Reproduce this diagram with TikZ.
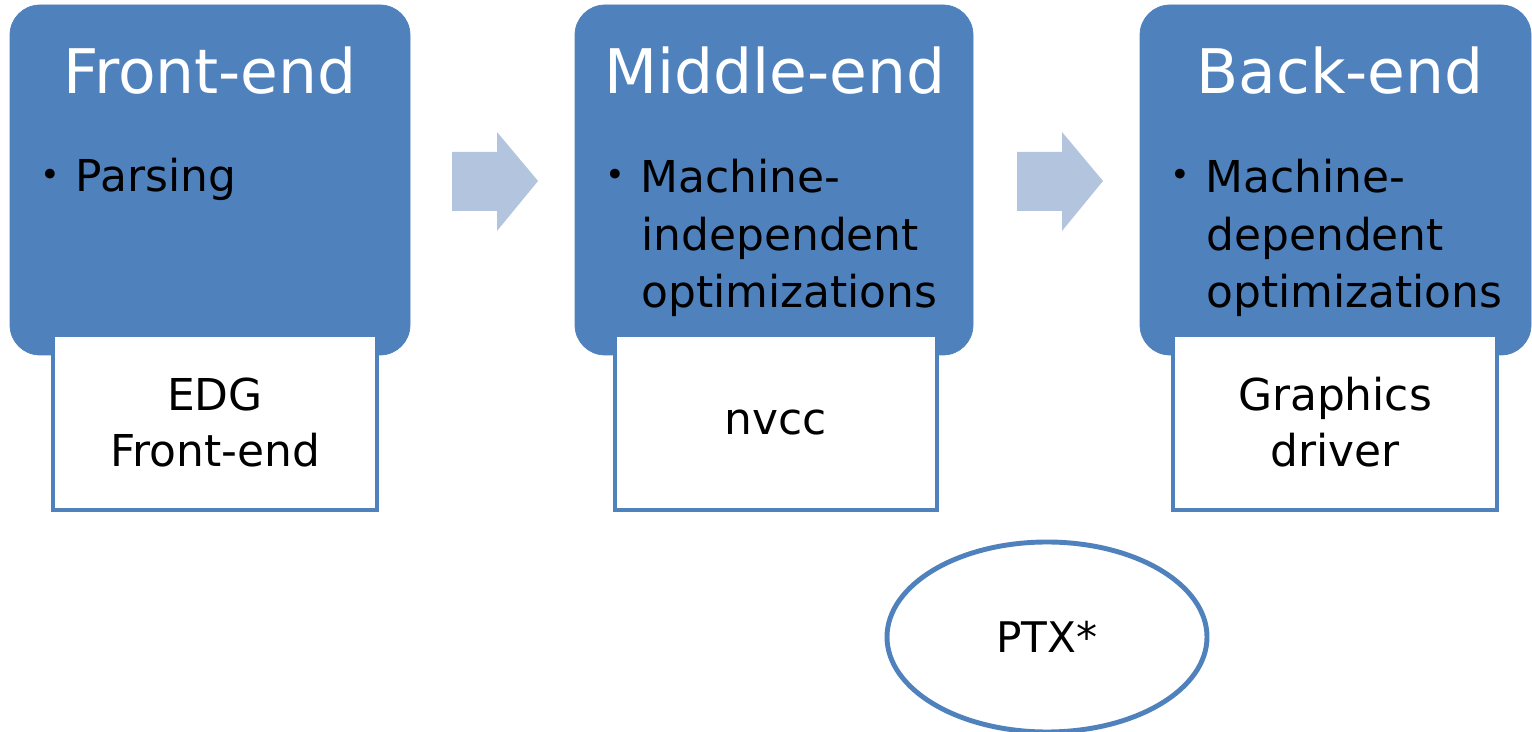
\documentclass[tikz,border=0pt]{standalone}
\usepackage{fontspec}
\setmainfont{DejaVu Sans}
\usetikzlibrary{shapes.geometric}
\definecolor{boxblue}{RGB}{79,129,189}
\definecolor{arrowblue}{RGB}{179,196,222}
\newcommand{\bdot}{\raisebox{3pt}{\fontsize{19}{19}\selectfont •}\hspace{9pt}}
\tikzset{
  stage/.style={fill=boxblue, draw=boxblue, rounded corners=17pt},
  sub/.style={fill=white, draw=boxblue, line width=2pt},
  flow/.style={fill=arrowblue, draw=none},
  title/.style={text=white, font=\fontsize{35}{40}\selectfont, anchor=base},
  bul/.style={font=\fontsize{25}{33}\selectfont, anchor=base west, align=left, inner sep=0pt},
  subtext/.style={font=\fontsize{25}{32}\selectfont, align=center, inner sep=0pt},
}
\begin{document}
\begin{tikzpicture}[x=0.02cm, y=-0.02cm]
\useasboundingbox (0,0) rectangle (1532,732);
% stage boxes
\draw[stage] (10,5) rectangle (410,355);
\draw[stage] (575,5) rectangle (973,355);
\draw[stage] (1140,5) rectangle (1531,355);
% sub boxes
\node[sub, minimum width=324*0.02cm, minimum height=175*0.02cm, inner sep=0pt] (sub1) at (215,422.5) {};
\node[sub, minimum width=322*0.02cm, minimum height=175*0.02cm, inner sep=0pt] (sub2) at (776,422.5) {};
\node[sub, minimum width=324*0.02cm, minimum height=175*0.02cm, inner sep=0pt] (sub3) at (1335,422.5) {};
% titles
\node[title] (t1) at (210,94) {Front-end};
\node[title] (t2) at (775,94) {Middle-end};
\node[title] (t3) at (1340,94) {Back-end};
% bullets
\node[bul] (b1) at (40,192) {\bdot Parsing};
\node[bul] (b2) at (605,308) {\bdot Machine-\\\hspace*{20.5pt}independent\\\hspace*{20.5pt}optimizations};
\node[bul] (b3) at (1170,308) {\bdot Machine-\\\hspace*{20.5pt}dependent\\\hspace*{20.5pt}optimizations};
% sub texts
\node[subtext] (s1) at (sub1.center) {EDG\\Front-end};
\node[subtext] (s2) at (sub2.center) {nvcc};
\node[subtext] (s3) at (sub3.center) {Graphics\\driver};
% arrows
\fill[flow] (452,152) -- (497,152) -- (497,132) -- (538,181) -- (497,231) -- (497,211) -- (452,211) -- cycle;
\fill[flow] (1017,152) -- (1062,152) -- (1062,132) -- (1103,181) -- (1062,231) -- (1062,211) -- (1017,211) -- cycle;
% ellipse
\node[ellipse, draw=boxblue, line width=2.8pt, fill=white, minimum width=320*0.02cm, minimum height=190*0.02cm, font=\fontsize{24}{28}\selectfont] (ptx) at (1047,637) {PTX*};
\end{tikzpicture}
\end{document}
